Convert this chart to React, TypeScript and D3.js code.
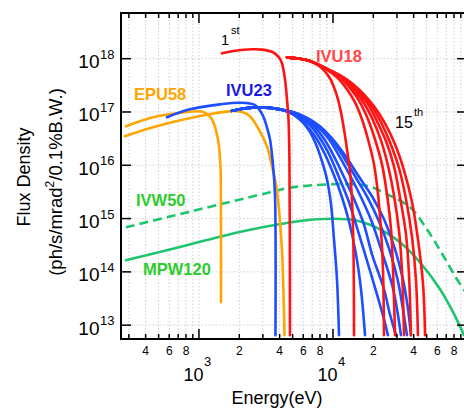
import React from 'react';
import * as d3 from 'd3';

// energies in eV, flux density in ph/s/mrad^2/0.1%B.W.
const epu58 = [
  [[285, 5.39e16], [454, 7.96e16], [814, 1.0e17], [1017, 1.03e17], [1128, 9.46e16], [1250, 7.3e16], [1386, 3.08e16], [1447, 9.57e15], [1458, 2.3e15], [1460, 2.7e13]],
  [[280, 3.5e16], [454, 5.16e16], [814, 7.45e16], [1316, 9.46e16], [1733, 1.04e17], [2129, 9.87e16], [2402, 8.3e16], [2710, 5.39e16], [3216, 2.27e16], [3505, 9.57e15], [3755, 4.4e15], [3953, 1.49e15], [4160, 2.65e14], [4350, 6.5e12]],
];

const ivu23 = [
  [[577, 7.96e16], [857, 1.12e17], [1435, 1.39e17], [2023, 1.49e17], [2618, 1.34e17], [3005, 8.49e16], [3216, 5.16e16], [3388, 3.08e16], [3565, 1.04e16], [3690, 2.86e15], [3722, 6.5e12]],
  [[1763, 1.05e17], [2203, 1.17e17], [2851, 1.22e17], [4020, 1.12e17], [4775, 9.87e16], [5672, 7.3e16], [6617, 4.54e16], [7468, 2.48e16], [8278, 1.19e16], [9016, 5.46e15], [9666, 1.85e15], [10175, 4.09e14], [10710, 7.26e13], [11090, 6.5e12]],
  [[1763, 1.05e17], [2203, 1.17e17], [2851, 1.22e17], [4020, 1.12e17], [5027, 9.06e16], [6180, 5.88e16], [7339, 3.5e16], [8710, 1.61e16], [10175, 6.49e15], [11670, 2.51e15], [13160, 8.89e14], [14850, 2.14e14], [16180, 4.72e13], [17340, 6.5e12]],
  [[1763, 1.05e17], [2203, 1.17e17], [2851, 1.22e17], [4020, 1.12e17], [5204, 9.06e16], [6730, 5.63e16], [7998, 3.21e16], [9500, 1.48e16], [11090, 5.96e15], [12940, 2.3e15], [14850, 7.81e14], [17630, 1.88e14], [21300, 3.8e13], [24030, 1.29e13], [25700, 6.5e12]],
  [[1763, 1.05e17], [2203, 1.17e17], [2851, 1.22e17], [4020, 1.12e17], [5383, 9.06e16], [7218, 5.39e16], [8710, 2.94e16], [10350, 1.35e16], [12300, 5.46e15], [14600, 2.11e15], [17020, 7.81e14], [19550, 2.14e14], [24030, 4.72e13], [26610, 1.6e13], [29510, 6.5e12]],
  [[1763, 1.05e17], [2203, 1.17e17], [2851, 1.22e17], [4020, 1.12e17], [5571, 9.06e16], [7599, 5.39e16], [9333, 3.08e16], [11280, 1.41e16], [13620, 5.96e15], [16460, 2.3e15], [19550, 8.53e14], [23220, 2.33e14], [27540, 5.85e13], [30060, 1.99e13], [32150, 6.5e12]],
  [[1763, 1.05e17], [2203, 1.17e17], [2851, 1.22e17], [4020, 1.12e17], [5571, 9.06e16], [7870, 5.51e16], [9666, 3.14e16], [11880, 1.48e16], [14600, 6.22e15], [18250, 2.4e15], [22030, 8.89e14], [26610, 2.43e14], [30550, 6.67e13], [33270, 1.99e13], [35650, 6.5e12]],
  [[1763, 1.05e17], [2203, 1.17e17], [2851, 1.22e17], [4020, 1.12e17], [5571, 9.06e16], [7870, 5.51e16], [9833, 3.21e16], [12300, 1.54e16], [15370, 6.49e15], [19550, 2.62e15], [24030, 9.7e14], [29040, 2.65e14], [33270, 7.26e13], [36310, 1.99e13], [38190, 6.5e12]],
];

const ivu18 = [
  [[1485, 1.26e18], [1856, 1.41e18], [2487, 1.5e18], [2951, 1.48e18], [3565, 1.32e18], [3953, 1.06e18], [4160, 8.2e17], [4385, 4.11e17], [4536, 1.73e17], [4656, 7.3e16], [4732, 1.3e16], [4775, 6.5e12]],
  [[4536, 1.06e18], [5672, 9.95e17], [6730, 9.06e17], [7727, 7.52e17], [8562, 6.05e17], [9500, 4.29e17], [10175, 2.9e17], [10900, 1.73e17], [11470, 9.87e16], [12080, 4.73e16], [12720, 2.0e16], [13390, 7.71e15], [13860, 2.3e15], [14220, 2.65e14], [14350, 6.5e12]],
  [[4536, 1.06e18], [5672, 9.95e17], [6730, 9.06e17], [8710, 6.61e17], [10710, 4.48e17], [12720, 2.67e17], [14600, 1.52e17], [16460, 7.3e16], [18250, 3.08e16], [20240, 1.04e16], [21680, 2.86e15], [22800, 6.3e14], [23610, 1.12e14], [24030, 6.5e12]],
  [[4536, 1.06e18], [5672, 9.95e17], [6730, 9.06e17], [8867, 6.47e17], [11280, 4.48e17], [13620, 2.67e17], [15900, 1.52e17], [18250, 7.3e16], [20570, 3.08e16], [23220, 1.04e16], [25290, 2.86e15], [27100, 6.3e14], [28050, 1.12e14], [29040, 6.5e12]],
  [[4536, 1.06e18], [5672, 9.95e17], [6730, 9.06e17], [9016, 6.32e17], [11670, 4.29e17], [14350, 2.55e17], [17020, 1.46e17], [19900, 6.99e16], [22800, 2.94e16], [25700, 1.0e16], [28510, 2.74e15], [31120, 5.78e14], [32730, 1.03e14], [33880, 6.5e12]],
  [[4536, 1.06e18], [5672, 9.95e17], [6730, 9.06e17], [9180, 6.32e17], [12080, 4.29e17], [15110, 2.44e17], [18250, 1.39e17], [21300, 6.7e16], [24880, 2.82e16], [28510, 9.57e15], [31620, 2.51e15], [35070, 5.07e14], [36900, 9.02e13], [38190, 6.5e12]],
  [[4536, 1.06e18], [5672, 9.95e17], [6730, 9.06e17], [9333, 6.19e17], [12500, 4.11e17], [15900, 2.34e17], [19230, 1.34e17], [22800, 6.41e16], [26610, 2.7e16], [31120, 8.79e15], [35070, 2.3e15], [38900, 4.46e14], [41590, 7.26e13], [43050, 6.5e12]],
  [[4536, 1.06e18], [5672, 9.95e17], [6730, 9.06e17], [9500, 6.05e17], [12940, 3.93e17], [16740, 2.24e17], [20240, 1.28e17], [24430, 6.14e16], [29040, 2.48e16], [33880, 8.05e15], [38900, 2.02e15], [43050, 4.09e14], [46990, 5.85e13], [48640, 6.5e12]],
];

const ivw50 = [[285, 6.87e14], [662, 1.15e15], [1435, 1.85e15], [3388, 3.11e15], [4775, 3.79e15], [10000, 4.4e15], [17940, 4.12e15], [25290, 2.86e15], [37580, 1.63e15], [50230, 6.3e14], [66220, 2.05e14], [84200, 7.26e13], [96600, 4.33e13]];

const mpw120 = [[285, 1.65e14], [662, 2.77e14], [1435, 4.56e14], [2402, 6.16e14], [4160, 7.98e14], [6293, 9.29e14], [10000, 9.91e14], [14600, 9.29e14], [22440, 6.3e14], [31620, 3.59e14], [44570, 1.51e14], [62950, 4.72e13], [78700, 1.75e13], [95000, 6.47e12]];

const decadesY = [13, 14, 15, 16, 17, 18];
const decadesX = [3, 4];
const minorLabels = [4, 6, 8, 20, 40, 60, 80, 200, 400, 600, 800]; // x 100 eV

const FONT = 'Liberation Sans, Arial, Helvetica, sans-serif';

const App = () => {
  const left = 121, right = 467, top = 13, bottom = 339;
  const x = d3.scaleLog().domain([262, 1e5]).range([left, right]);
  const y = d3.scaleLog().domain([5.5e12, 7.2e18]).range([bottom, top]);

  const line = d3.line()
    .x((d) => x(d[0]))
    .y((d) => y(d[1]))
    .curve(d3.curveCatmullRom.alpha(0.5));

  // every 1..9 x 10^n inside the x domain
  const xTicks = [];
  for (let p = 2; p <= 4; p++) {
    for (let m = 1; m <= 9; m++) {
      const v = m * Math.pow(10, p);
      if (v >= 262 && v <= 1e5) xTicks.push({ v, major: m === 1 });
    }
  }

  const green = '#1fc56c';

  return (
    <svg width={464} height={412} style={{ position: 'absolute', left: 0, top: 0, background: '#fff' }} fontFamily={FONT}>
      <defs>
        <clipPath id="plot">
          <rect x={left} y={top} width={right - left} height={bottom - top} />
        </clipPath>
      </defs>

      {/* grid */}
      <g stroke="#cfcfcf" strokeWidth={1} strokeDasharray="1.5,2">
        {xTicks.map((t, i) => (
          <line key={'gx' + i} x1={x(t.v)} x2={x(t.v)} y1={top} y2={bottom} />
        ))}
        {decadesY.map((p) => (
          <line key={'gy' + p} x1={left} x2={right} y1={y(Math.pow(10, p))} y2={y(Math.pow(10, p))} />
        ))}
      </g>

      <g clipPath="url(#plot)" fill="none" strokeWidth={2.6} strokeLinejoin="round" strokeLinecap="round">
        <path d={line(ivw50)} stroke={green} strokeDasharray="9,5" strokeLinecap="butt" />
        <path d={line(mpw120)} stroke={green} />
        {epu58.map((c, i) => <path key={'o' + i} d={line(c)} stroke="#ffa500" />)}
        {ivu23.map((c, i) => <path key={'b' + i} d={line(c)} stroke="#1d4eff" />)}
        {ivu18.map((c, i) => <path key={'r' + i} d={line(c)} stroke="#ff1414" />)}
      </g>

      {/* frame and ticks */}
      <rect x={left} y={top} width={right - left} height={bottom - top} fill="none" stroke="#000" strokeWidth={2} />
      <g stroke="#000" strokeWidth={1.5}>
        {xTicks.map((t, i) => {
          const len = t.major ? 10 : 5;
          return (
            <g key={'tx' + i}>
              <line x1={x(t.v)} x2={x(t.v)} y1={bottom} y2={bottom - len} />
              <line x1={x(t.v)} x2={x(t.v)} y1={top} y2={top + len} />
            </g>
          );
        })}
        {decadesY.map((p) => (
          <g key={'ty' + p}>
            <line x1={left} x2={left + 10} y1={y(Math.pow(10, p))} y2={y(Math.pow(10, p))} />
            <line x1={right} x2={right - 10} y1={y(Math.pow(10, p))} y2={y(Math.pow(10, p))} />
          </g>
        ))}
      </g>

      {/* y tick labels */}
      {decadesY.map((p) => (
        <g key={'ly' + p}>
          <text x={99.5} y={y(Math.pow(10, p)) + 9.5} fontSize={19} textAnchor="end">10</text>
          <text x={100} y={y(Math.pow(10, p))} fontSize={13}>{p}</text>
        </g>
      ))}

      {/* x tick labels */}
      {decadesX.map((p) => (
        <g key={'lx' + p}>
          <text x={x(Math.pow(10, p)) + 4.5} y={381} fontSize={18} textAnchor="end">10</text>
          <text x={x(Math.pow(10, p)) + 5} y={366} fontSize={13}>{p}</text>
        </g>
      ))}
      {minorLabels.map((m) => {
        const v = m * 100;
        const digit = String(m).charAt(0);
        return (
          <text key={'lm' + m} x={x(v)} y={355} fontSize={12} textAnchor="middle">{digit}</text>
        );
      })}

      {/* axis titles */}
      <text x={277} y={404} fontSize={18} textAnchor="middle">Energy(eV)</text>
      <text transform="translate(30,177) rotate(-90)" fontSize={18} textAnchor="middle">Flux Density</text>
      <text transform="translate(62,182) rotate(-90)" fontSize={18.5} textAnchor="middle">
        (ph/s/mrad<tspan fontSize={12} dy={-8}>2</tspan><tspan dy={8}>/0.1%B.W.)</tspan>
      </text>

      {/* series labels */}
      <g fontWeight="bold" fontSize={16.5}>
        <text x={134} y={100} fill="#ffa500">EPU58</text>
        <text x={226} y={96} fill="#1a1ae6">IVU23</text>
        <text x={316} y={61.5} fill="#ff4848">IVU18</text>
        <text x={136} y={206} fill="#2ecc2e">IVW50</text>
        <text x={143} y={275} fill="#2ecc2e">MPW120</text>
      </g>
      <text x={221} y={45} fontSize={14.5}>1</text>
      <text x={231} y={33.5} fontSize={11}>st</text>
      <text x={395} y={128} fontSize={16}>15</text>
      <text x={414} y={115.5} fontSize={11}>th</text>
    </svg>
  );
};

export default App;
